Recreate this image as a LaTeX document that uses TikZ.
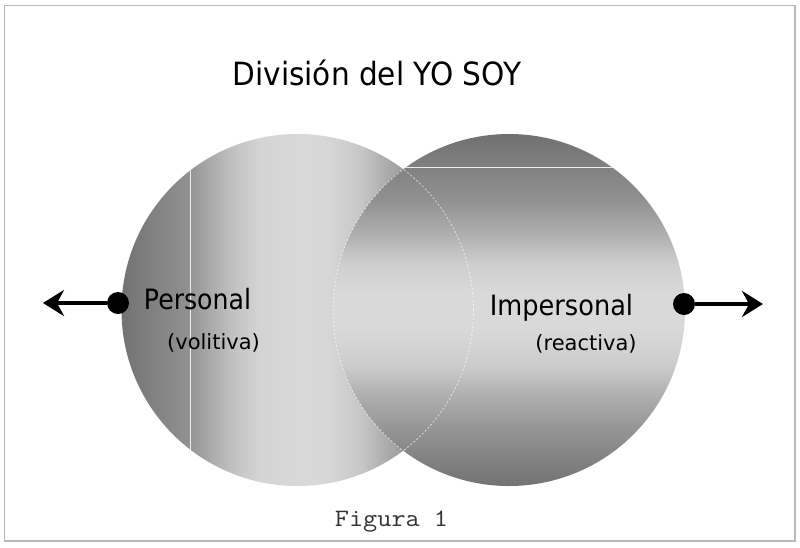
\documentclass[tikz,border=0pt]{standalone}
\usepackage{fontspec}
\setmainfont{DejaVu Sans}
\usetikzlibrary{arrows.meta}
\pgfdeclarehorizontalshading{leftsh}{100bp}{%
color(0bp)=(white!45!black);
color(25bp)=(white!45!black);
color(29bp)=(white!50!black);
color(34.5bp)=(white!57!black);
color(36bp)=(white!62!black);
color(40.5bp)=(white!75!black);
color(44.5bp)=(white!83!black);
color(50.5bp)=(white!85!black);
color(54.5bp)=(white!84!black);
color(59bp)=(white!78!black);
color(63bp)=(white!66!black);
color(67.5bp)=(white!55!black);
color(75bp)=(white!45!black);
color(100bp)=(white!45!black)}
\pgfdeclareverticalshading{rightsh}{100bp}{%
color(0bp)=(white!45!black);
color(25bp)=(white!45!black);
color(29.5bp)=(white!52!black);
color(33.5bp)=(white!59!black);
color(38bp)=(white!69!black);
color(42bp)=(white!80!black);
color(47.5bp)=(white!85!black);
color(52.5bp)=(white!85!black);
color(56.5bp)=(white!81!black);
color(61bp)=(white!68!black);
color(65.5bp)=(white!57!black);
color(70bp)=(white!51!black);
color(75bp)=(white!44!black);
color(100bp)=(white!44!black)}
\tikzset{
  ball/.style={circle, inner sep=0pt, minimum size=352pt},
  dot/.style={circle, fill=black, inner sep=0pt, minimum size=22pt},
  arrowline/.style={line width=3.5pt, -{Stealth[length=21pt,width=26pt,inset=7pt]}},
  seam/.style={white, line width=0.8pt, dash pattern=on 2pt off 2pt, opacity=0.65},
  streak/.style={white!85!gray, line width=1pt},
  lbl/.style={inner sep=0pt, anchor=base, text=black}
}
\begin{document}
\begin{tikzpicture}[x=1pt,y=-1pt]
\useasboundingbox (0,0) rectangle (800,547);
\fill[white] (0,0) rectangle (800,547);
\draw[white!72!black, line width=1.5pt] (4.5,5.5) rectangle (795,541);
% circles
\node[ball, shading=leftsh] (L) at (297.5,310) {};
\begin{scope}
  \clip (L.center) circle[radius=176pt];
  \draw[streak] (190,0) -- (190,547);
\end{scope}
\node[ball, shading=rightsh] (R) at (509,310) {};
\begin{scope}
  \clip (R.center) circle[radius=176pt];
  \draw[streak] (403,167) -- (720,167);
  \draw[seam] (L.center) circle[radius=176pt];
\end{scope}
\begin{scope}
  \clip (L.center) circle[radius=176pt];
  \draw[seam] (R.center) circle[radius=176pt];
\end{scope}
% dots and arrows
\node[dot] (DL) at (118,303) {};
\node[dot] (DR) at (684,304) {};
\coordinate (AL) at (43,303);
\coordinate (AR) at (763,304);
\draw[arrowline] (DL) -- (AL);
\draw[arrowline] (DR) -- (AR);
% texts
\node[lbl] (title) at (377,85) {\fontsize{32}{38}\selectfont\scalebox{0.924}[1]{División del YO SOY}};
\node[lbl] (pers) at (197.5,309) {\fontsize{28}{34}\selectfont\scalebox{0.9}[1]{Personal}};
\node[lbl] (vol) at (213.5,349) {\fontsize{21}{25}\selectfont (volitiva)};
\node[lbl] (imp) at (561.5,315) {\fontsize{28}{34}\selectfont\scalebox{0.915}[1]{Impersonal}};
\node[lbl] (rea) at (586,350) {\fontsize{21}{25}\selectfont (reactiva)};
\node[lbl, text=black!80] (fig) at (391.5,526) {\ttfamily\fontsize{25}{30}\selectfont\scalebox{1.1}[1]{Figura 1}};
\end{tikzpicture}
\end{document}
